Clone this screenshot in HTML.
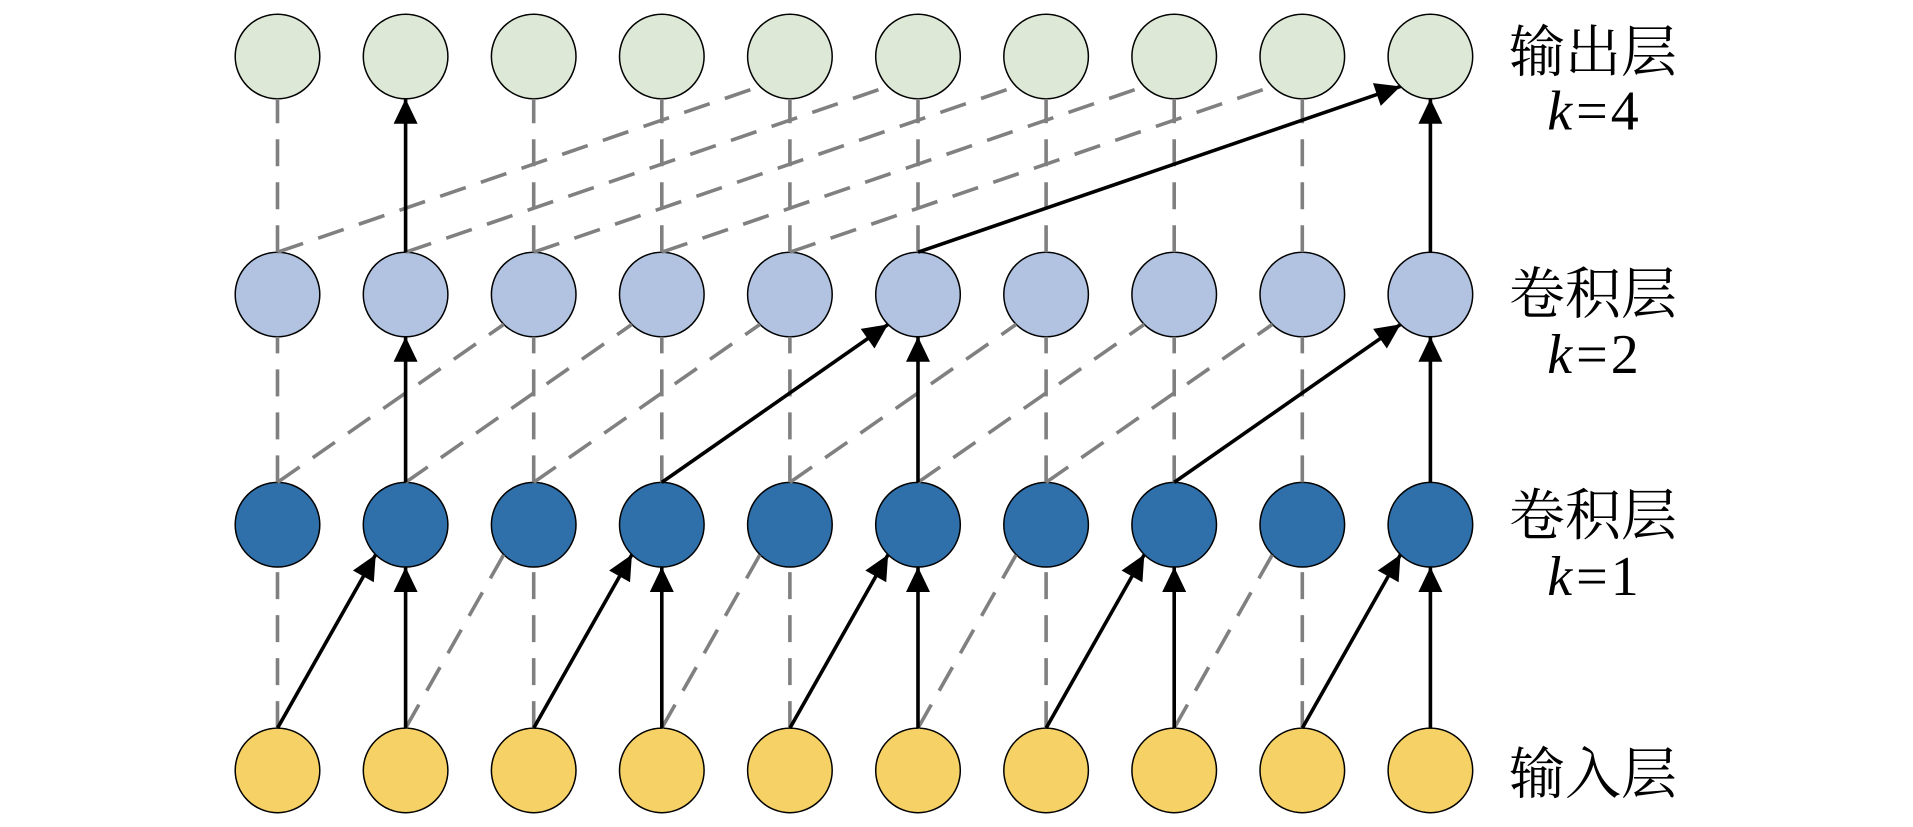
<!DOCTYPE html>
<html><head><meta charset="utf-8"><style>
html,body{margin:0;padding:0;background:#fff;}
svg{display:block;}
.lbl{font-family:"Liberation Serif","DejaVu Serif","Noto Serif CJK SC","Noto Serif CJK JP",serif;font-size:56px;fill:#000;}
</style></head><body>
<svg width="1913" height="827" viewBox="0 0 1913 827" xmlns="http://www.w3.org/2000/svg">
<defs>
<marker id="a" markerUnits="userSpaceOnUse" markerWidth="30" markerHeight="30" refX="25" refY="12" orient="auto" overflow="visible">
<path d="M0,0 L25,12 L0,24 z" fill="#000"/>
</marker>
</defs>
<rect width="1913" height="827" fill="#fff"/>

<g stroke="#000" stroke-width="1.5">
<g fill="#dde9d6">
<circle cx="277.5" cy="56.5" r="42.3"/><circle cx="405.6" cy="56.5" r="42.3"/><circle cx="533.7" cy="56.5" r="42.3"/><circle cx="661.8" cy="56.5" r="42.3"/><circle cx="789.9" cy="56.5" r="42.3"/><circle cx="918" cy="56.5" r="42.3"/><circle cx="1046.1" cy="56.5" r="42.3"/><circle cx="1174.2" cy="56.5" r="42.3"/><circle cx="1302.3" cy="56.5" r="42.3"/><circle cx="1430.4" cy="56.5" r="42.3"/>
</g>
<g fill="#b1c3e1">
<circle cx="277.5" cy="294.5" r="42.3"/><circle cx="405.6" cy="294.5" r="42.3"/><circle cx="533.7" cy="294.5" r="42.3"/><circle cx="661.8" cy="294.5" r="42.3"/><circle cx="789.9" cy="294.5" r="42.3"/><circle cx="918" cy="294.5" r="42.3"/><circle cx="1046.1" cy="294.5" r="42.3"/><circle cx="1174.2" cy="294.5" r="42.3"/><circle cx="1302.3" cy="294.5" r="42.3"/><circle cx="1430.4" cy="294.5" r="42.3"/>
</g>
<g fill="#2f70aa">
<circle cx="277.5" cy="524.7" r="42.3"/><circle cx="405.6" cy="524.7" r="42.3"/><circle cx="533.7" cy="524.7" r="42.3"/><circle cx="661.8" cy="524.7" r="42.3"/><circle cx="789.9" cy="524.7" r="42.3"/><circle cx="918" cy="524.7" r="42.3"/><circle cx="1046.1" cy="524.7" r="42.3"/><circle cx="1174.2" cy="524.7" r="42.3"/><circle cx="1302.3" cy="524.7" r="42.3"/><circle cx="1430.4" cy="524.7" r="42.3"/>
</g>
<g fill="#f6d165">
<circle cx="277.5" cy="770.4" r="42.3"/><circle cx="405.6" cy="770.4" r="42.3"/><circle cx="533.7" cy="770.4" r="42.3"/><circle cx="661.8" cy="770.4" r="42.3"/><circle cx="789.9" cy="770.4" r="42.3"/><circle cx="918" cy="770.4" r="42.3"/><circle cx="1046.1" cy="770.4" r="42.3"/><circle cx="1174.2" cy="770.4" r="42.3"/><circle cx="1302.3" cy="770.4" r="42.3"/><circle cx="1430.4" cy="770.4" r="42.3"/>
</g>
</g>

<g stroke="#808080" stroke-width="3.6" stroke-dasharray="27 16" fill="none">
<line x1="277.5" y1="728.1" x2="277.5" y2="567"/>
<line x1="533.7" y1="728.1" x2="533.7" y2="567"/>
<line x1="789.9" y1="728.1" x2="789.9" y2="567"/>
<line x1="1046.1" y1="728.1" x2="1046.1" y2="567"/>
<line x1="1302.3" y1="728.1" x2="1302.3" y2="567"/>
<line x1="405.6" y1="728.1" x2="503.8" y2="554.6"/>
<line x1="661.8" y1="728.1" x2="760" y2="554.6"/>
<line x1="918" y1="728.1" x2="1016.2" y2="554.6"/>
<line x1="1174.2" y1="728.1" x2="1272.4" y2="554.6"/>

<line x1="277.5" y1="482.4" x2="277.5" y2="336.8"/>
<line x1="533.7" y1="482.4" x2="533.7" y2="336.8"/>
<line x1="661.8" y1="482.4" x2="661.8" y2="336.8"/>
<line x1="789.9" y1="482.4" x2="789.9" y2="336.8"/>
<line x1="1046.1" y1="482.4" x2="1046.1" y2="336.8"/>
<line x1="1174.2" y1="482.4" x2="1174.2" y2="336.8"/>
<line x1="1302.3" y1="482.4" x2="1302.3" y2="336.8"/>
<line x1="277.5" y1="482.4" x2="503.8" y2="324.4"/>
<line x1="405.6" y1="482.4" x2="631.9" y2="324.4"/>
<line x1="533.7" y1="482.4" x2="760" y2="324.4"/>
<line x1="789.9" y1="482.4" x2="1016.2" y2="324.4"/>
<line x1="918" y1="482.4" x2="1144.3" y2="324.4"/>
<line x1="1046.1" y1="482.4" x2="1272.4" y2="324.4"/>

<line x1="277.5" y1="252.2" x2="277.5" y2="98.8"/>
<line x1="533.7" y1="252.2" x2="533.7" y2="98.8"/>
<line x1="661.8" y1="252.2" x2="661.8" y2="98.8"/>
<line x1="789.9" y1="252.2" x2="789.9" y2="98.8"/>
<line x1="918" y1="252.2" x2="918" y2="98.8"/>
<line x1="1046.1" y1="252.2" x2="1046.1" y2="98.8"/>
<line x1="1174.2" y1="252.2" x2="1174.2" y2="98.8"/>
<line x1="1302.3" y1="252.2" x2="1302.3" y2="98.8"/>
<line x1="277.5" y1="252.2" x2="760" y2="86.4"/>
<line x1="405.6" y1="252.2" x2="888.1" y2="86.4"/>
<line x1="533.7" y1="252.2" x2="1016.2" y2="86.4"/>
<line x1="661.8" y1="252.2" x2="1144.3" y2="86.4"/>
<line x1="789.9" y1="252.2" x2="1272.4" y2="86.4"/>
</g>

<g stroke="#000" stroke-width="3.6" fill="none" marker-end="url(#a)">
<line x1="277.5" y1="728.1" x2="375.7" y2="554.6"/>
<line x1="405.6" y1="728.1" x2="405.6" y2="567"/>
<line x1="533.7" y1="728.1" x2="631.9" y2="554.6"/>
<line x1="661.8" y1="728.1" x2="661.8" y2="567"/>
<line x1="789.9" y1="728.1" x2="888.1" y2="554.6"/>
<line x1="918" y1="728.1" x2="918" y2="567"/>
<line x1="1046.1" y1="728.1" x2="1144.3" y2="554.6"/>
<line x1="1174.2" y1="728.1" x2="1174.2" y2="567"/>
<line x1="1302.3" y1="728.1" x2="1400.5" y2="554.6"/>
<line x1="1430.4" y1="728.1" x2="1430.4" y2="567"/>
<line x1="405.6" y1="482.4" x2="405.6" y2="336.8"/>
<line x1="661.8" y1="482.4" x2="888.1" y2="324.4"/>
<line x1="918" y1="482.4" x2="918" y2="336.8"/>
<line x1="1174.2" y1="482.4" x2="1400.5" y2="324.4"/>
<line x1="1430.4" y1="482.4" x2="1430.4" y2="336.8"/>
<line x1="405.6" y1="252.2" x2="405.6" y2="98.8"/>
<line x1="918" y1="252.2" x2="1400.5" y2="86.4"/>
<line x1="1430.4" y1="252.2" x2="1430.4" y2="98.8"/>
</g>

<g class="lbl" text-anchor="middle">
<text class="lbl" x="1593" y="71.3">输出层</text>
<text class="lbl" x="1593" y="129.5"><tspan style="font-style:italic">k</tspan><tspan dx="4">=</tspan><tspan dx="3">4</tspan></text>
<text class="lbl" x="1593" y="313.6">卷积层</text>
<text class="lbl" x="1593" y="373"><tspan style="font-style:italic">k</tspan><tspan dx="4">=</tspan><tspan dx="3">2</tspan></text>
<text class="lbl" x="1593" y="534.8">卷积层</text>
<text class="lbl" x="1593" y="595"><tspan style="font-style:italic">k</tspan><tspan dx="4">=</tspan><tspan dx="3">1</tspan></text>
<text class="lbl" x="1593" y="793.3">输入层</text>
</g>
</svg>
</body></html>
